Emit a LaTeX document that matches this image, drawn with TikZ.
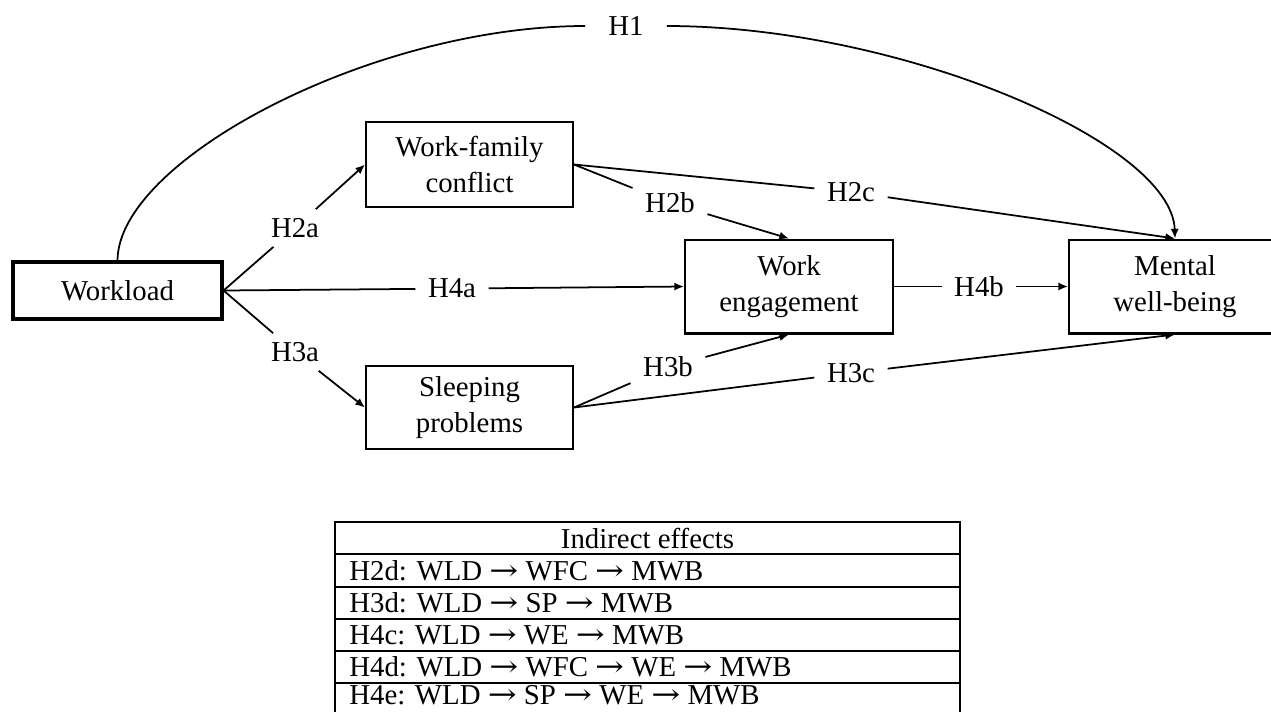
\documentclass[tikz,border=0pt]{standalone}
\usepackage{fontspec}
\setmainfont{Liberation Serif}
\newfontfamily\arrowfont{DejaVu Serif}
\usetikzlibrary{arrows.meta,calc}
\newcommand{\ra}{{\arrowfont\scalebox{1.2}[1]{→}}}
\begin{document}
\begin{tikzpicture}[x=0.02cm,y=-0.02cm,
  every node/.style={font=\fontsize{16.4}{20.4}\selectfont},
  box/.style={draw,line width=1.15pt,inner sep=0pt,align=center},
  lbl/.style={inner xsep=7pt,inner ysep=5pt},
  conn/.style={line width=1pt},
  arr/.style={conn,-{Latex[length=5.5pt,width=4.6pt]}},
  tbl/.style={line width=1.1pt},
  row/.style={anchor=base west,inner sep=0pt}]
\useasboundingbox (0,0) rectangle (1271,711);
\clip (0,0) rectangle (1271,711);

% boxes
\node[box,line width=1.8pt,minimum width=4.18cm,minimum height=1.14cm] (wl) at (117.5,290.5) {Workload};
\node[box,minimum width=4.14cm,minimum height=1.70cm] (wfc) at (469.5,164.5) {Work-family\\conflict};
\node[box,minimum width=4.14cm,minimum height=1.66cm] (sp) at (469.5,407.5) {Sleeping\\problems};
\node[box,minimum width=4.16cm,minimum height=1.88cm] (we) at (789,286.5) {Work\\engagement};
\node[box,minimum width=4.24cm,minimum height=1.88cm] (mwb) at (1175,286.5) {Mental\\well-being};

% labels
\node[lbl,inner xsep=13pt] (h1) at (626,26) {H1};
\node[lbl] (h2a) at (295,228) {H2a};
\node[lbl] (h3a) at (295,352) {H3a};
\node[lbl] (h4a) at (452,288.6) {H4a};
\node[lbl] (h2b) at (670,203) {H2b};
\node[lbl] (h2c) at (851,192) {H2c};
\node[lbl] (h3b) at (668,367) {H3b};
\node[lbl] (h3c) at (851,373) {H3c};
\node[lbl] (h4b) at (979,286.5) {H4b};

% connectors
\draw[conn] (wl.north) .. controls (118,160) and (372,26) .. (h1);
\draw[arr] (h1) .. controls (899,26) and (1172,142) .. (mwb.north);

\draw[conn] (wl.east) -- (h2a);
\draw[arr] (h2a) -- (wfc.west);
\draw[conn] (wl.east) -- (h3a);
\draw[arr] (h3a) -- (sp.west);
\draw[conn] (wl.east) -- (h4a);
\draw[arr] (h4a) -- (we.west);

\draw[conn] (wfc.east) -- (h2b);
\draw[arr] (h2b) -- (we.north);
\draw[conn] (wfc.east) -- (h2c);
\draw[arr] (h2c) -- (mwb.north);

\draw[conn] (sp.east) -- (h3b);
\draw[arr] (h3b) -- (we.south);
\draw[conn] (sp.east) -- (h3c);
\draw[arr] (h3c) -- (mwb.south);

\draw[conn] (we.east) -- (h4b);
\draw[arr] (h4b) -- (mwb.west);

% table
\draw[tbl] (335,716) -- (335,522) -- (960,522) -- (960,716);
\foreach \yy in {554,587,619,651,683} \draw[tbl] (335,\yy) -- (960,\yy);
\node[anchor=base,inner sep=0pt] (th) at (647.5,548) {Indirect effects};
\node[row] (r1) at (349,580) {H2d: WLD \ra{} WFC \ra{} MWB};
\node[row] (r2) at (349,612) {H3d: WLD \ra{} SP \ra{} MWB};
\node[row] (r3) at (349,644) {H4c: WLD \ra{} WE \ra{} MWB};
\node[row] (r4) at (349,676) {H4d: WLD \ra{} WFC \ra{} WE \ra{} MWB};
\node[row] (r5) at (349,704) {H4e: WLD \ra{} SP \ra{} WE \ra{} MWB};
\end{tikzpicture}
\end{document}
